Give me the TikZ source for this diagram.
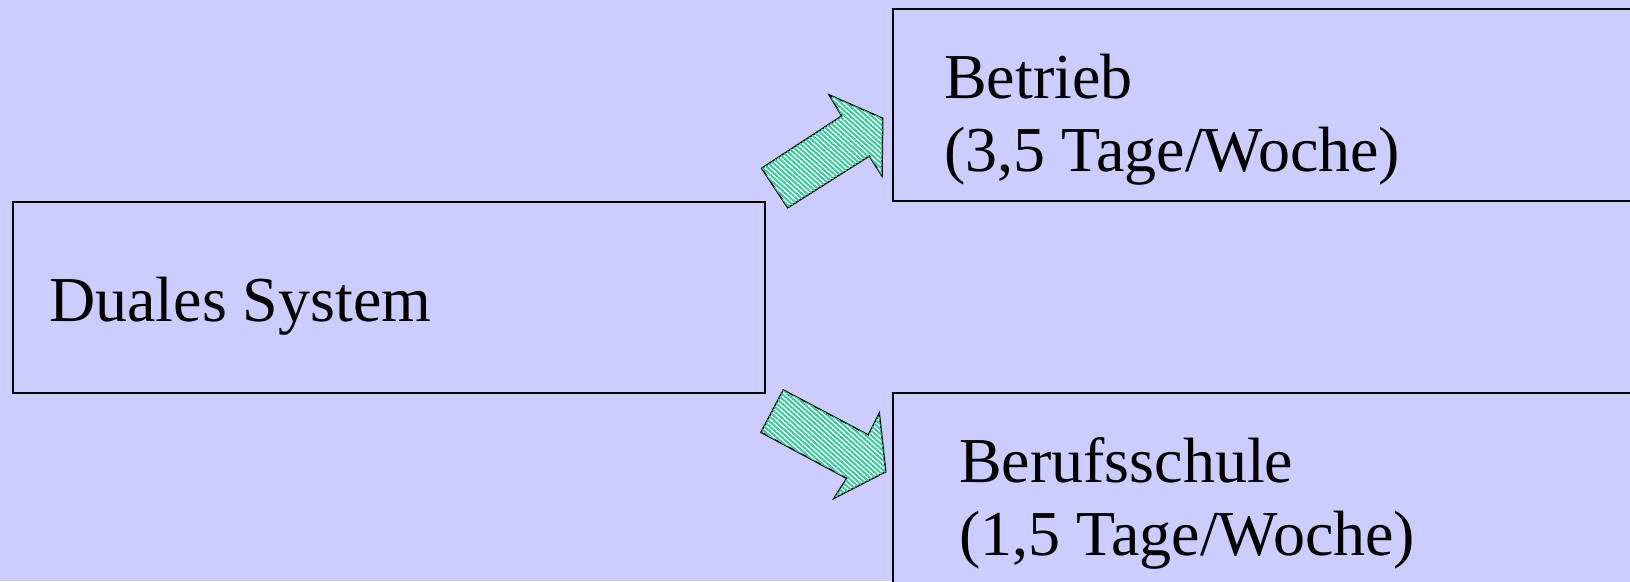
\documentclass[tikz,border=0pt]{standalone}
\usepackage{fontspec}
\setmainfont{Liberation Serif}
\usetikzlibrary{patterns.meta}
\definecolor{bgblue}{HTML}{CCCCFF}
\definecolor{arrgreen}{HTML}{33CC99}
\tikzset{
  box/.style={draw=black, line width=2pt, fill=bgblue, rectangle, inner sep=0pt},
  label text/.style={inner sep=0pt, anchor=base west, align=left, font=\fontsize{64}{73}\selectfont},
  blockarrow/.style={draw=black, line width=1.5pt, line join=miter, fill=white,
     postaction={pattern={Lines[angle=-42,distance=3.6pt,line width=2pt]}, pattern color=arrgreen}},
}
\begin{document}
\begin{tikzpicture}[x=1pt,y=-1pt]
\useasboundingbox (0,0) rectangle (1630,581);
\clip (0,0) rectangle (1630,581);
\fill[bgblue] (0,0) rectangle (1630,581);

% boxes
\node[box, minimum width=752.5pt, minimum height=191pt] (dual) at (388.75,297.5) {};
\node[box, minimum width=780pt, minimum height=192pt] (betrieb) at (1283,105) {};
\node[box, minimum width=780pt, minimum height=230pt] (schule) at (1283,508) {};

% texts (anchor at baseline of the last line)
\node[label text] (tdual) at (49,321) {Duales System};
\node[label text] (tbetrieb) at (944,171) {Betrieb\\(3,5 Tage/Woche)};
\node[label text] (tschule) at (959,555) {Berufsschule\\(1,5 Tage/Woche)};

% block arrows
\draw[blockarrow] (761.7,168.3) -- (841.7,116) -- (829.3,95) -- (882.7,118.3)
   -- (882,176) -- (869.3,156) -- (787.7,207.7) -- cycle;
\draw[blockarrow] (783.3,390) -- (868.3,435) -- (879.3,413.3) -- (885.7,471.7)
   -- (834,498.3) -- (846.7,478.3) -- (761,432.3) -- cycle;
\end{tikzpicture}
\end{document}
